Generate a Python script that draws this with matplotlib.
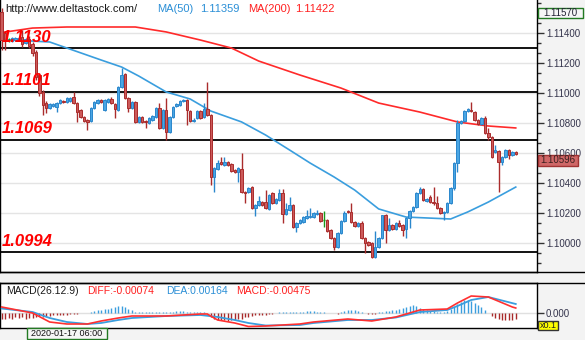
import matplotlib
matplotlib.use("Agg")
import matplotlib.pyplot as plt
from matplotlib.patches import Rectangle
from matplotlib.lines import Line2D
from matplotlib.ticker import MultipleLocator, FixedLocator
import numpy as np

# ---------------- data ----------------
opens = [1.11542, 1.11402, 1.11355, 1.11349, 1.11355, 1.11355, 1.11375, 1.11335, 1.11362, 1.11329,
         1.11275, 1.11122, 1.11009, 1.10935, 1.10902, 1.10915, 1.10909, 1.10935, 1.10949, 1.10942,
         1.10949, 1.10975, 1.10935, 1.10889, 1.10842, 1.10822, 1.10815, 1.10902, 1.10935, 1.10955,
         1.10889, 1.10942, 1.10962, 1.10929, 1.10889, 1.11042, 1.11129, 1.10969, 1.10902, 1.10942,
         1.10809, 1.10842, 1.10815, 1.10802, 1.10822, 1.10842, 1.10902, 1.10769, 1.10889, 1.10742,
         1.10842, 1.10915, 1.10922, 1.10949, 1.10955, 1.10882, 1.10815, 1.10835, 1.10882, 1.10842,
         1.10895, 1.10855, 1.10442, 1.10495, 1.10542, 1.10522, 1.10542, 1.10529, 1.10489, 1.10475,
         1.10495, 1.10342, 1.10342, 1.10375, 1.10235, 1.10255, 1.10275, 1.10275, 1.10229, 1.10335,
         1.10269, 1.10289, 1.10335, 1.10195, 1.10222, 1.10255, 1.10109, 1.10135, 1.10142, 1.10169,
         1.10175, 1.10175, 1.10195, 1.10202, 1.10155, 1.10155, 1.10089, 1.10035, 1.09975, 1.10069,
         1.10149, 1.10215, 1.10209, 1.10142, 1.10115, 1.10135, 1.10035, 1.10009, 1.10002, 1.09909,
         1.09975, 1.10035, 1.10189, 1.10089, 1.10122, 1.10095, 1.10135, 1.10122, 1.10095, 1.10169,
         1.10215, 1.10242, 1.10335, 1.10362, 1.10282, 1.10309, 1.10275, 1.10269, 1.10235, 1.10202,
         1.10209, 1.10269, 1.10369, 1.10535, 1.10802, 1.10815, 1.10882, 1.10889, 1.10875, 1.10822,
         1.10795, 1.10835, 1.10735, 1.10709, 1.10609, 1.10615, 1.10542, 1.10575, 1.10622, 1.10589,
         1.10609]
highs = [1.11570, 1.11415, 1.11369, 1.11375, 1.11375, 1.11375, 1.11422, 1.11369, 1.11382, 1.11342,
         1.11289, 1.11135, 1.11022, 1.10949, 1.10935, 1.10935, 1.10942, 1.10962, 1.10955, 1.10975,
         1.10975, 1.11009, 1.10942, 1.10895, 1.10849, 1.10829, 1.10909, 1.10949, 1.10962, 1.10962,
         1.10962, 1.10969, 1.10975, 1.10935, 1.11049, 1.11169, 1.11135, 1.10975, 1.10949, 1.10949,
         1.10849, 1.10849, 1.10822, 1.10842, 1.10855, 1.10909, 1.10935, 1.10895, 1.10969, 1.10849,
         1.10915, 1.10935, 1.10955, 1.10962, 1.10962, 1.10889, 1.10835, 1.10889, 1.10889, 1.10935,
         1.11075, 1.10862, 1.10509, 1.10555, 1.10575, 1.10575, 1.10549, 1.10535, 1.10495, 1.10509,
         1.10602, 1.10349, 1.10375, 1.10382, 1.10262, 1.10315, 1.10282, 1.10355, 1.10329, 1.10342,
         1.10302, 1.10362, 1.10362, 1.10269, 1.10309, 1.10262, 1.10142, 1.10162, 1.10182, 1.10222,
         1.10235, 1.10209, 1.10222, 1.10209, 1.10215, 1.10162, 1.10095, 1.10042, 1.10075, 1.10155,
         1.10215, 1.10222, 1.10269, 1.10149, 1.10142, 1.10149, 1.10042, 1.10015, 1.10009, 1.10082,
         1.10042, 1.10189, 1.10195, 1.10169, 1.10129, 1.10142, 1.10155, 1.10129, 1.10175, 1.10222,
         1.10249, 1.10342, 1.10375, 1.10369, 1.10302, 1.10322, 1.10375, 1.10315, 1.10242, 1.10215,
         1.10275, 1.10375, 1.10542, 1.10822, 1.10822, 1.10889, 1.10902, 1.10942, 1.10882, 1.10829,
         1.10842, 1.10849, 1.10769, 1.10715, 1.10655, 1.10622, 1.10582, 1.10629, 1.10629, 1.10615,
         1.10615]
lows = [1.11289, 1.11289, 1.11342, 1.11342, 1.11349, 1.11349, 1.11309, 1.11329, 1.11302, 1.11249,
        1.11089, 1.10982, 1.10855, 1.10869, 1.10895, 1.10909, 1.10875, 1.10929, 1.10935, 1.10935,
        1.10942, 1.10929, 1.10809, 1.10835, 1.10809, 1.10755, 1.10809, 1.10895, 1.10929, 1.10935,
        1.10882, 1.10935, 1.10929, 1.10835, 1.10882, 1.11035, 1.10962, 1.10875, 1.10895, 1.10802,
        1.10802, 1.10802, 1.10769, 1.10795, 1.10815, 1.10835, 1.10762, 1.10762, 1.10689, 1.10735,
        1.10835, 1.10909, 1.10915, 1.10942, 1.10789, 1.10809, 1.10809, 1.10829, 1.10829, 1.10835,
        1.10849, 1.10389, 1.10342, 1.10489, 1.10522, 1.10515, 1.10515, 1.10475, 1.10469, 1.10409,
        1.10335, 1.10269, 1.10335, 1.10229, 1.10182, 1.10249, 1.10249, 1.10229, 1.10222, 1.10262,
        1.10262, 1.10282, 1.10135, 1.10189, 1.10215, 1.10102, 1.10075, 1.10129, 1.10135, 1.10162,
        1.10169, 1.10169, 1.10189, 1.10142, 1.10109, 1.10075, 1.10029, 1.09955, 1.09969, 1.10062,
        1.10142, 1.10202, 1.10135, 1.10109, 1.10109, 1.10029, 1.09935, 1.09982, 1.09902, 1.09902,
        1.09969, 1.10029, 1.10002, 1.10082, 1.10089, 1.10089, 1.10109, 1.10049, 1.10035, 1.10102,
        1.10209, 1.10235, 1.10329, 1.10282, 1.10275, 1.10269, 1.10255, 1.10229, 1.10195, 1.10155,
        1.10202, 1.10262, 1.10355, 1.10475, 1.10795, 1.10809, 1.10875, 1.10875, 1.10815, 1.10789,
        1.10789, 1.10729, 1.10689, 1.10569, 1.10602, 1.10342, 1.10522, 1.10569, 1.10562, 1.10582,
        1.10589]
closes = [1.11355, 1.11355, 1.11355, 1.11369, 1.11369, 1.11369, 1.11329, 1.11362, 1.11315, 1.11269,
          1.11109, 1.11002, 1.10922, 1.10902, 1.10929, 1.10929, 1.10935, 1.10955, 1.10942, 1.10969,
          1.10969, 1.10935, 1.10875, 1.10842, 1.10815, 1.10809, 1.10902, 1.10942, 1.10955, 1.10942,
          1.10955, 1.10962, 1.10935, 1.10895, 1.11042, 1.11122, 1.10969, 1.10902, 1.10942, 1.10809,
          1.10842, 1.10809, 1.10809, 1.10835, 1.10849, 1.10902, 1.10769, 1.10889, 1.10742, 1.10842,
          1.10909, 1.10929, 1.10949, 1.10955, 1.10889, 1.10815, 1.10822, 1.10882, 1.10835, 1.10895,
          1.10855, 1.10442, 1.10502, 1.10535, 1.10529, 1.10542, 1.10522, 1.10482, 1.10475, 1.10502,
          1.10342, 1.10335, 1.10369, 1.10235, 1.10255, 1.10282, 1.10255, 1.10235, 1.10322, 1.10269,
          1.10295, 1.10335, 1.10195, 1.10229, 1.10255, 1.10109, 1.10135, 1.10155, 1.10175, 1.10182,
          1.10182, 1.10202, 1.10202, 1.10149, 1.10155, 1.10082, 1.10035, 1.09975, 1.10069, 1.10149,
          1.10202, 1.10209, 1.10142, 1.10115, 1.10135, 1.10035, 1.10002, 1.09989, 1.09909, 1.09975,
          1.10035, 1.10189, 1.10089, 1.10122, 1.10095, 1.10135, 1.10115, 1.10089, 1.10169, 1.10215,
          1.10242, 1.10335, 1.10362, 1.10289, 1.10295, 1.10275, 1.10269, 1.10235, 1.10202, 1.10209,
          1.10269, 1.10369, 1.10535, 1.10802, 1.10815, 1.10882, 1.10895, 1.10882, 1.10822, 1.10795,
          1.10835, 1.10735, 1.10709, 1.10575, 1.10622, 1.10542, 1.10575, 1.10622, 1.10589, 1.10609,
          1.10596]

# moving averages (bar index, value)
ma50_idx = [0, 14, 19, 29, 35, 40, 48, 55, 61, 70, 77, 84, 90, 97, 103, 110, 118, 131, 136, 142, 150]
ma50_val = [1.11359, 1.11342, 1.11302, 1.11222, 1.11175, 1.11115, 1.11009, 1.10962, 1.10882, 1.10809,
            1.10722, 1.10622, 1.10535, 1.10442, 1.10355, 1.10229, 1.10175, 1.10162, 1.10209, 1.10275,
            1.10375]
ma200_idx = [0, 9, 19, 39, 48, 58, 67, 75, 87, 99, 110, 122, 133, 142, 150]
ma200_val = [1.11405, 1.11435, 1.11442, 1.11442, 1.11409, 1.11355, 1.11302, 1.11215, 1.11122, 1.11035,
             1.10935, 1.10875, 1.10809, 1.10782, 1.10769]

levels = [1.1130, 1.1101, 1.1069, 1.0994]
level_labels = ["1.1130", "1.1101", "1.1069", "1.0994"]

# MACD panel
macd_hist = [-5.7, -5.7, -5.0, -5.7, -4.0, -5.0, -4.0, -5.7, -4.7, -4.7,
             -4.0, -3.3, -4.0, -3.3, -3.0, -2.3, -2.3, -1.7, -1.7, -1.7,
             -1.3, -0.7, -0.5, -0.3, -0.3, 0.3, 1.0, 2.0, 2.7, 3.3,
             4.3, 4.3, 5.3, 6.0, 6.7, 7.0, 6.0, 4.3, 2.7, 1.5,
             1.0, 1.0, 1.0, 1.0, 1.0, 1.0, 1.0, 1.0, 1.0, 1.5,
             1.5, 2.0, 2.0, 2.0, 1.5, 1.0, 1.0, 1.0, 1.0, 1.0,
             0.5, -4.0, -5.7, -6.7, -7.3, -7.3, -8.0, -7.3, -6.7, -5.7,
             -5.7, -4.0, -4.0, -3.3, -2.3, -2.3, -1.7, -1.7, -0.7, -0.7,
             -0.3, 1.0, 1.0, 1.0, 1.0, 1.0, 1.0, 1.0, 1.5, 2.0,
             2.0, 2.0, 1.5, 1.0, 1.0, 0.5, 0.5, 0.3, -0.7, 1.5,
             2.5, 3.0, 3.5, 3.0, 2.0, 1.0, 0.3, -0.7, -1.0, -0.7,
             1.0, 1.5, 2.0, 2.5, 3.0, 3.5, 4.0, 5.0, 6.0, 7.0,
             8.0, 7.0, 5.0, 4.0, 3.0, 2.5, 2.0, 1.5, 1.0, 1.0,
             2.0, 4.0, 6.0, 9.0, 11.0, 13.0, 13.0, 12.0, 10.0, 8.0,
             6.0, 3.0, 0.5, -3.0, -5.0, -6.0, -7.0, -7.0, -7.0, -7.0,
             -6.0]
macd_hist = [v * 1e-4 for v in macd_hist]
diff_idx = [0, 9, 14, 19, 25, 29, 34, 38, 48, 58, 60, 63, 68, 72, 77, 87, 91, 101, 108, 115,
            122, 130, 133, 137, 142, 149, 150]
diff_val = [0.0006, 0.0, -0.0009, -0.0011, -0.0011, -0.0008, -0.0005, -0.0003, -0.0003, -0.0001,
            -0.0001, -0.0007, -0.0010, -0.00135, -0.0013, -0.0011, -0.0009, -0.0006, -0.0008, -0.0004,
            0.0003, 0.0004, 0.0010, 0.0017, 0.0016, 0.0006, 0.0005]
dea_idx = [0, 9, 14, 19, 25, 29, 34, 38, 48, 58, 63, 68, 72, 77, 87, 91, 101, 108, 115, 122,
           130, 133, 137, 142, 150]
dea_val = [0.00045, 0.0001, -0.0005, -0.0009, -0.0011, -0.0010, -0.0007, -0.0005, -0.0003, -0.0002,
           -0.0004, -0.0007, -0.0010, -0.00125, -0.0012, -0.0010, -0.0007, -0.0007, -0.00045, 0.0001,
           0.0003, 0.0007, 0.0013, 0.0016, 0.0009]

price_ticks = [1.100, 1.102, 1.104, 1.106, 1.108, 1.110, 1.112, 1.114]
last_price = 1.10596
top_price = 1.11570
date_label = "2020-01-17 06:00"

# ---------------- figure ----------------
W, H = 585, 340
FONT = "Liberation Sans"
fig = plt.figure(figsize=(W / 100, H / 100), dpi=100, facecolor="#f3f3f3")


def fx(px):
    return px / W


def fy(py):
    return 1 - py / H


BLUE_FILL, BLUE_EDGE = "#4aa6e4", "#2a87cc"
RED_FILL, RED_EDGE = "#cc5a5a", "#aa2c2c"
DOJI = "#1a9a1a"
AXIS_TXT = "#34344c"

n = len(closes)
idx = np.arange(n)
o = np.array(opens); c = np.array(closes); hi = np.array(highs); lo = np.array(lows)
x_left, x_right = -1.7 / 3.427, (537 - 1.7) / 3.427

# ---- main price panel ----
ax = fig.add_axes([0, fy(272), fx(537), 272 / H])
ax.set_facecolor("white")
ax.set_xlim(x_left, x_right)
ax.set_ylim(1.11622 - 272 / 15000, 1.11622)

for p in price_ticks:
    ax.axhline(p, color="#e4e4e4", lw=1.0, zorder=1)
for lv in levels:
    ax.axhline(lv, color="black", lw=1.3, zorder=2)

ax.plot(ma200_idx, ma200_val, color="#ff2a2a", lw=1.2, zorder=3)
ax.plot(ma50_idx, ma50_val, color="#3a9ede", lw=1.2, zorder=3)

up = c > o
dn = c < o
eq = c == o
wick_col = np.where(up, BLUE_EDGE, np.where(dn, RED_EDGE, DOJI))
ax.vlines(idx, lo, hi, colors=wick_col, lw=1.0, zorder=4)
bw = 0.72
for mask, fill, edge in ((up, BLUE_FILL, BLUE_EDGE), (dn, RED_FILL, RED_EDGE)):
    bottoms = np.minimum(o, c)[mask]
    heights = np.maximum(np.abs(c - o)[mask], 0.00003)
    ax.bar(idx[mask], heights, bottom=bottoms, width=bw, color=fill,
           edgecolor=edge, linewidth=0.7, zorder=5)
ax.hlines(c[eq], idx[eq] - bw / 2, idx[eq] + bw / 2, colors=DOJI, lw=1.0, zorder=5)

for lv, lab in zip(levels, level_labels):
    ax.text(0.004, lv + 0.00024, lab, transform=ax.get_yaxis_transform(),
            color="#ff0000", fontsize=12, fontweight="bold", fontstyle="italic",
            family=FONT, va="bottom", ha="left", zorder=8)

ax.yaxis.tick_right()
ax.yaxis.set_major_locator(FixedLocator(price_ticks))
ax.yaxis.set_minor_locator(MultipleLocator(0.002 / 3))
ax.set_yticklabels([f"{p:.5f}" for p in price_ticks])
ax.tick_params(axis="y", which="major", direction="out", length=5, width=1,
               color="#333333", labelcolor=AXIS_TXT, labelsize=7, pad=1.5)
ax.tick_params(axis="y", which="minor", direction="out", length=3, width=1, color="#333333")
for t in ax.get_yticklabels():
    t.set_family(FONT)
ax.set_xticks([])
ax.spines["top"].set_visible(False)
for s in ("left", "right", "bottom"):
    ax.spines[s].set_color("black")
    ax.spines[s].set_linewidth(1.0)

# header
hy = fy(9)
fig.text(fx(5), hy, "http://www.deltastock.com/", color="#1a1a1a", fontsize=8, family=FONT, va="center")
fig.text(fx(157), hy, "MA(50)", color="#2b8fd6", fontsize=8, family=FONT, va="center")
fig.text(fx(200), hy, f"{ma50_val[0]:.5f}", color="#2b8fd6", fontsize=8, family=FONT, va="center")
fig.text(fx(248), hy, "MA(200)", color="#ff2020", fontsize=8, family=FONT, va="center")
fig.text(fx(295), hy, "1.11422", color="#ff2020", fontsize=8, family=FONT, va="center")

# ---- MACD panel ----
ax2 = fig.add_axes([0, fy(327.5), fx(537), 44.5 / H])
ax2.set_facecolor("white")
ax2.set_xlim(x_left, x_right)
ax2.set_ylim(-0.00145, 0.0030)
ax2.axhline(0, color="#e0e0e0", lw=1.0, zorder=1)
hist = np.array(macd_hist)
ax2.vlines(idx, 0, hist, colors=np.where(hist >= 0, "#3a9ede", "#a82a2a"), lw=1.0, zorder=2)
ax2.plot(dea_idx, dea_val, color="#3a9ede", lw=1.3, zorder=3)
ax2.plot(diff_idx, diff_val, color="#ff3030", lw=1.2, zorder=4)
ax2.yaxis.tick_right()
ax2.set_yticks([0.0])
ax2.set_yticklabels(["0.000"])
ax2.tick_params(axis="y", direction="out", length=5, width=1, color="#333333",
                labelcolor=AXIS_TXT, labelsize=7, pad=1.5)
for t in ax2.get_yticklabels():
    t.set_family(FONT)
ax2.set_xticks([])
for s in ax2.spines.values():
    s.set_color("black")
    s.set_linewidth(1.0)

my = fy(290.5)
fig.text(fx(6), my, "MACD(26.12.9)", color="#1a1a1a", fontsize=7.5, family=FONT, va="center")
fig.text(fx(87), my, "DIFF:-0.00074", color="#ff2020", fontsize=7.5, family=FONT, va="center")
fig.text(fx(166), my, "DEA:0.00164", color="#2b8fd6", fontsize=7.5, family=FONT, va="center")
fig.text(fx(236), my, "MACD:-0.00475", color="#ff2020", fontsize=7.5, family=FONT, va="center")

# ---- separators ----
fig.add_artist(Line2D([0, 1], [fy(272), fy(272)], color="black", lw=1.0))
fig.add_artist(Line2D([0, 1], [fy(283), fy(283)], color="black", lw=1.0))


# ---- value boxes on the price scale ----
def value_box(x0, y0, w, h, text, face, edge, tcolor, size=7):
    fig.add_artist(Rectangle((fx(x0), fy(y0 + h)), w / W, h / H, transform=fig.transFigure,
                             facecolor=face, edgecolor=edge, lw=1.0, zorder=10))
    fig.text(fx(x0 + w / 2), fy(y0 + h / 2), text, color=tcolor, fontsize=size, family=FONT,
             ha="center", va="center", zorder=11)


value_box(538, 8, 45, 10, f"{top_price:.5f}", "#f6f6f6", "#237a23", "#222233")
value_box(538, 155, 40, 10.5, f"{last_price:.5f}", "#cf6767", "#a03333", "#3a2020")
value_box(538, 321, 20, 9, "x0.1", "#ffff00", "#333333", "#222222", size=6.5)
value_box(27, 328, 80, 11, date_label, "#f6f6f6", "#237a23", "#111111", size=6.5)

fig.savefig("out.png", dpi=100, facecolor=fig.get_facecolor())
